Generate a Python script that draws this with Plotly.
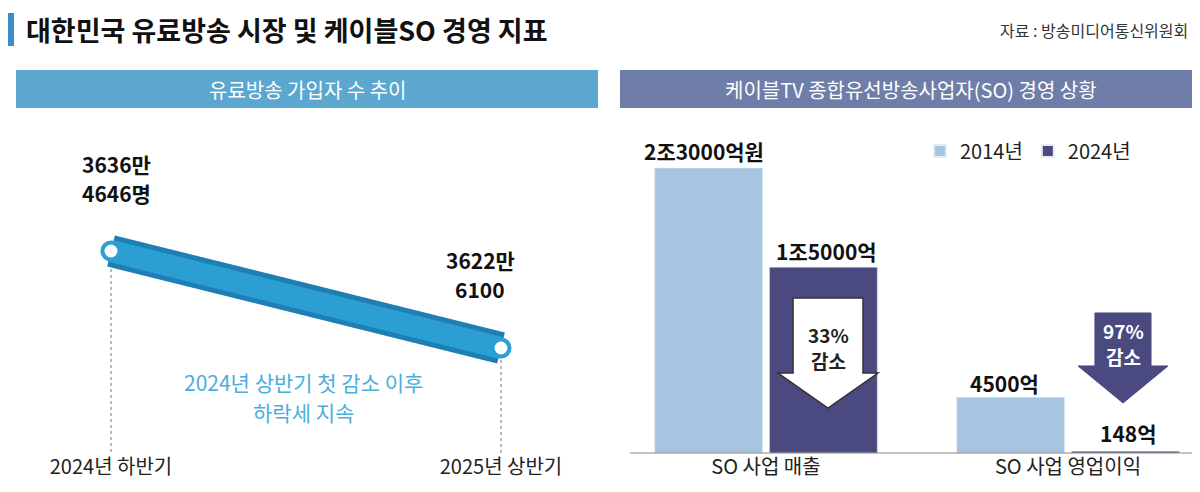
import plotly.graph_objects as go

W, H = 1200, 492
FONT = "Noto Sans CJK KR"

periods = ["2024년 하반기", "2025년 상반기"]
subscribers = [36364646, 36226100]
sub_labels = ["3636만", "4646명", "3622만", "6100"]

metrics = ["SO 사업 매출", "SO 사업 영업이익"]
v2014 = [23000, 4500]
v2024 = [15000, 148]
lab2014 = ["2조3000억원", "4500억"]
lab2024 = ["1조5000억", "148억"]

LIGHT = "#a7c5e0"
DARK = "#4a4a80"
BLUE = "#2b9fd3"


def px(x, y):
    return x / W, 1 - y / H


def path(pts):
    s = ""
    for i, (x, y) in enumerate(pts):
        a, b = px(x, y)
        s += ("M" if i == 0 else "L") + f"{a:.4f},{b:.4f} "
    return s + "Z"


# axis calibration (pixels)
dom_bottom = 47 / H
lx_span = 600 / 390
lx_range = [-103 / 390, -103 / 390 + lx_span]
dh = H - 47
p1, p2 = (H - 243) - 47, (H - 340) - 47
k = (p1 - p2) / (subscribers[0] - subscribers[1])
ly_range = [subscribers[1] - p2 / k, subscribers[1] + (dh - p2) / k]
rk = (445 - 160) / 23000
ry_range = [0, dh / rk]
rx_range = [-(758 - 600) / 302, -(758 - 600) / 302 + 600 / 302]

fig = go.Figure()
fig.add_trace(go.Scatter(x=[0, 1], y=subscribers, mode="lines",
                         line=dict(color="#1d7fb3", width=32), xaxis="x", yaxis="y", showlegend=False))
fig.add_trace(go.Scatter(x=[0, 1], y=subscribers, mode="lines",
                         line=dict(color=BLUE, width=22), xaxis="x", yaxis="y", showlegend=False))
fig.add_trace(go.Scatter(x=[0, 1], y=subscribers, mode="markers",
                         marker=dict(color="white", size=17, line=dict(color=BLUE, width=4)),
                         xaxis="x", yaxis="y", showlegend=False))

fig.add_trace(go.Bar(x=metrics, y=v2014, name="2014년", marker_color=LIGHT, xaxis="x2", yaxis="y2"))
fig.add_trace(go.Bar(x=metrics, y=v2024, name="2024년", marker_color=DARK, xaxis="x2", yaxis="y2"))

shapes = []
shapes.append(dict(type="rect", xref="paper", yref="paper", x0=0, x1=6 / W, y0=1 - 38 / H, y1=1 - 5 / H,
                   fillcolor="#3a8fc8", line_width=0))
shapes.append(dict(type="rect", xref="paper", yref="paper", x0=8 / W, x1=590 / W, y0=1 - 100 / H, y1=1 - 62 / H,
                   fillcolor="#5ca7cf", line_width=0))
shapes.append(dict(type="rect", xref="paper", yref="paper", x0=612 / W, x1=1195 / W, y0=1 - 100 / H, y1=1 - 62 / H,
                   fillcolor="#6e7ea8", line_width=0))
for i in range(2):
    shapes.append(dict(type="line", xref="x", yref="y", x0=i, x1=i, y0=subscribers[i], y1=ly_range[0],
                       line=dict(color="#777", width=1, dash="dot"), layer="below"))
shapes.append(dict(type="line", xref="paper", yref="paper", x0=622 / W, x1=1195 / W, y0=dom_bottom, y1=dom_bottom,
                   line=dict(color="#888", width=1)))
shapes.append(dict(type="path", xref="paper", yref="paper",
                   path=path([(785, 290), (855, 290), (855, 365), (870, 365), (820, 400), (770, 365), (785, 365)]),
                   fillcolor="white", line=dict(color="#333", width=1.5)))
shapes.append(dict(type="path", xref="paper", yref="paper",
                   path=path([(1087, 305), (1143, 305), (1143, 358), (1160, 358), (1115, 395), (1070, 358), (1087, 358)]),
                   fillcolor=DARK, line=dict(color=DARK, width=1)))

ann = []


def txt(x, y, t, size, color="#111", bold=False, xanchor="center"):
    a, b = px(x, y)
    ann.append(dict(xref="paper", yref="paper", x=a, y=b, text=f"<b>{t}</b>" if bold else t, showarrow=False,
                    xanchor=xanchor, yanchor="middle", font=dict(family=FONT, size=size, color=color)))


txt(16, 21, "대한민국 유료방송 시장 및 케이블SO 경영 지표", 27, bold=True, xanchor="left")
txt(1182, 22, "자료 : 방송미디어통신위원회", 16, "#333", xanchor="right")
txt(299, 81, "유료방송 가입자 수 추이", 20, "white")
txt(903, 81, "케이블TV 종합유선방송사업자(SO) 경영 상황", 20, "white")
txt(108, 156, sub_labels[0], 21, bold=True)
txt(108, 185, sub_labels[1], 21, bold=True)
txt(472, 252, sub_labels[2], 21, bold=True)
txt(472, 281, sub_labels[3], 21, bold=True)
txt(295, 374, "2024년 상반기 첫 감소 이후", 21, "#4aaede")
txt(295, 404, "하락세 지속", 21, "#4aaede")
txt(696, 143, lab2014[0], 21, bold=True)
txt(818, 243, lab2024[0], 21, bold=True)
txt(996, 375, lab2014[1], 21, bold=True)
txt(1120, 425, lab2024[1], 21, bold=True)
txt(820, 326, "33%", 19, "#222", bold=True)
txt(820, 352, "감소", 19, "#222", bold=True)
txt(1115, 322, "97%", 19, "white", bold=True)
txt(1115, 348, "감소", 19, "white", bold=True)

fig.update_layout(
    width=W, height=H, margin=dict(l=0, r=0, t=0, b=0),
    paper_bgcolor="white", plot_bgcolor="white",
    font=dict(family=FONT, size=20, color="#222"),
    xaxis=dict(domain=[0, 0.5], range=lx_range, tickvals=[0, 1], ticktext=periods, showgrid=False,
               zeroline=False, ticks="", tickfont=dict(size=20)),
    yaxis=dict(domain=[dom_bottom, 1], range=ly_range, visible=False),
    xaxis2=dict(domain=[0.5, 1], range=rx_range, type="category", showgrid=False, ticks="",
                tickfont=dict(size=20), anchor="y2"),
    yaxis2=dict(domain=[dom_bottom, 1], range=ry_range, visible=False, anchor="x2"),
    barmode="group", bargap=0.24, bargroupgap=0.06,
    legend=dict(orientation="h", x=0.76, y=1 - 143 / H, yanchor="middle", xanchor="left",
                font=dict(size=20), itemsizing="constant", bgcolor="rgba(0,0,0,0)"),
    shapes=shapes, annotations=ann,
)
fig.write_html("out.html")
